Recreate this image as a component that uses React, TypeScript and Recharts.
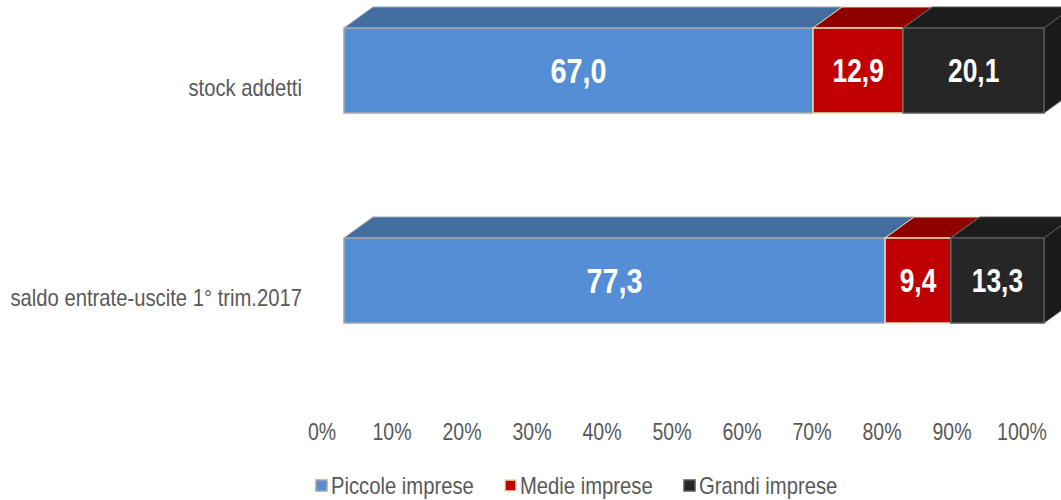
import { BarChart, Bar, XAxis, YAxis, Legend, LabelList } from "recharts";

const categories = ["stock addetti", "saldo entrate-uscite 1° trim.2017"];
const piccole = [67.0, 77.3];
const medie = [12.9, 9.4];
const grandi = [20.1, 13.3];
const xTicks = [0, 10, 20, 30, 40, 50, 60, 70, 80, 90, 100];

const data = categories.map((name, i) => ({
  name,
  piccole: piccole[i],
  medie: medie[i],
  grandi: grandi[i],
}));

const series = [
  { key: "piccole", name: "Piccole imprese", front: "#558ED5", top: "#426DA0", side: "#3A6190", stroke: "#A6A6A6", labelSize: 36, legendX: 0 },
  { key: "medie", name: "Medie imprese", front: "#C00000", top: "#8E0000", side: "#7A0000", stroke: "#D7E4BD", labelSize: 33, legendX: 189 },
  { key: "grandi", name: "Grandi imprese", front: "#262626", top: "#1C1C1C", side: "#1A1A1A", stroke: "#595959", labelSize: 33, legendX: 368 },
];

const DX = 29;
const DY = 21;
const FONT = '"Liberation Sans", Arial, sans-serif';
const TEXT = "#595959";

// Arial Narrow is not installed, so squeeze Liberation Sans horizontally
function NarrowText({ x, y, anchor, size, fill, bold, squeeze = 0.85, children }: any) {
  return (
    <text
      transform={`translate(${x},${y}) scale(${squeeze},1)`}
      textAnchor={anchor}
      dominantBaseline="central"
      fill={fill}
      fontSize={size}
      fontWeight={bold ? "bold" : "normal"}
      fontFamily={FONT}
    >
      {children}
    </text>
  );
}

function Box3D(props: any) {
  const { x, y, width, height, s, last } = props;
  const topPts = `${x},${y} ${x + DX},${y - DY} ${x + width + DX},${y - DY} ${x + width},${y}`;
  const sidePts = `${x + width},${y} ${x + width + DX},${y - DY} ${x + width + DX},${y + height - DY} ${x + width},${y + height}`;
  return (
    <g>
      <polygon points={topPts} fill={s.top} stroke={s.stroke} strokeWidth={1} />
      {last && <polygon points={sidePts} fill={s.side} stroke={s.stroke} strokeWidth={1} />}
      <rect x={x} y={y} width={width} height={height} fill={s.front} stroke={s.stroke} strokeWidth={1.5} />
    </g>
  );
}

function XTick(props: any) {
  const { x, y, payload } = props;
  return (
    <NarrowText x={x - 22} y={y + 47} anchor="middle" size={23} fill={TEXT}>
      {`${payload.value}%`}
    </NarrowText>
  );
}

function YTick(props: any) {
  const { x, y, payload } = props;
  return (
    <NarrowText x={x - 42} y={y + 18} anchor="end" size={23} fill={TEXT} squeeze={0.88}>
      {payload.value}
    </NarrowText>
  );
}

function LegendContent() {
  return (
    <svg width={560} height={30} style={{ display: "block" }}>
      {series.map((s) => (
        <g key={s.key}>
          <rect x={s.legendX + 2} y={10} width={11} height={11} fill={s.front} stroke={s.stroke} strokeWidth={1.5} />
          <NarrowText x={s.legendX + 17} y={16} anchor="start" size={23} fill={TEXT} squeeze={0.88}>
            {s.name}
          </NarrowText>
        </g>
      ))}
    </svg>
  );
}

export default function App() {
  return (
    <div style={{ position: "absolute", left: 0, top: 0, width: 1061, height: 500, overflow: "hidden", background: "#fff" }}>
      <BarChart
        width={1061}
        height={500}
        data={data}
        layout="vertical"
        margin={{ top: -35, right: 17, left: 0, bottom: 0 }}
        barSize={85}
      >
        <XAxis
          type="number"
          domain={[0, 100]}
          ticks={xTicks}
          interval={0}
          axisLine={false}
          tickLine={false}
          tickSize={0}
          tickMargin={0}
          height={85}
          tick={<XTick />}
        />
        <YAxis
          type="category"
          dataKey="name"
          width={344}
          axisLine={false}
          tickLine={false}
          tickSize={0}
          tickMargin={0}
          tick={<YTick />}
        />
        <Legend
          verticalAlign="bottom"
          height={30}
          content={<LegendContent />}
          wrapperStyle={{ left: 314, bottom: 0, width: "auto" }}
        />
        {series.map((s, i) => (
          <Bar
            key={s.key}
            dataKey={s.key}
            name={s.name}
            stackId="a"
            isAnimationActive={false}
            shape={(p: any) => <Box3D {...p} s={s} last={i === series.length - 1} />}
          >
            <LabelList
              dataKey={s.key}
              content={(p: any) => (
                <NarrowText
                  x={p.x + p.width / 2}
                  y={p.y + p.height / 2}
                  anchor="middle"
                  size={s.labelSize}
                  fill="#fff"
                  bold
                  squeeze={0.8}
                >
                  {Number(p.value).toFixed(1).replace(".", ",")}
                </NarrowText>
              )}
            />
          </Bar>
        ))}
      </BarChart>
    </div>
  );
}
